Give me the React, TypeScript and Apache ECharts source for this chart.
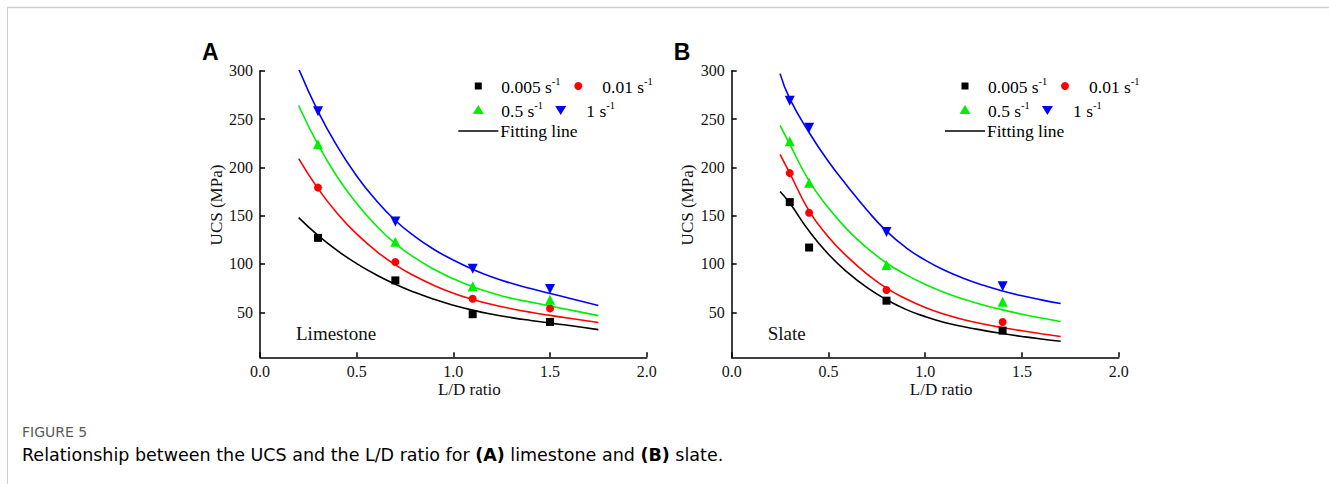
import React, { useEffect, useRef } from "react";
import * as echarts from "echarts";

// ---------- data ----------
const rateLabels = ["0.005", "0.01", "0.5", "1"];
const rateColors = ["#000000", "#ff0000", "#00ee00", "#0000ff"];
const rateSymbols = ["rect", "circle", "triangle", "triangle"];
const rateRotate = [0, 0, 0, 180];

const yTicks = [50, 100, 150, 200, 250, 300];

// Panel A: limestone
const limestoneLD = [0.3, 0.7, 1.1, 1.5];
const limestone0005 = [127, 83, 48, 40];
const limestone001 = [179, 102, 64, 54];
const limestone05 = [224, 123, 77, 63];
const limestone1 = [258, 144, 95, 74];

const limestoneFitLD = [0.2, 0.3, 0.4, 0.5, 0.6, 0.7, 0.8, 0.9, 1.0, 1.1, 1.2, 1.3, 1.4, 1.5, 1.6, 1.75];
const limestoneFit0005 = [148, 129.6, 113.8, 100.4, 88.9, 79.0, 70.6, 63.4, 57.3, 52.2, 48.0, 44.5, 41.5, 38.8, 36.3, 32.0];
const limestoneFit001 = [209, 178, 152.3, 131.1, 113.5, 99.0, 87.5, 77.8, 69.8, 63.3, 58.0, 53.7, 50.0, 46.8, 43.8, 39.5];
const limestoneFit05 = [264, 223.4, 190.0, 162.6, 139.8, 121.1, 106.5, 94.5, 84.6, 76.5, 70.0, 64.5, 60.5, 56.5, 52.5, 46.5];
const limestoneFit1 = [302, 258, 221.6, 191.1, 165.9, 145.0, 128.5, 115.0, 104.0, 94.5, 86.5, 80.0, 74.5, 69.5, 64.5, 57.0];

// Panel B: slate
const slateLD = [0.3, 0.4, 0.8, 1.4];
const slate0005 = [164, 117, 62, 31];
const slate001 = [194, 153, 73, 40];
const slate05 = [227, 184, 99, 61];
const slate1 = [269, 241, 133, 77];

const slateFitLD = [0.25, 0.3, 0.4, 0.5, 0.6, 0.7, 0.8, 0.9, 1.0, 1.1, 1.2, 1.3, 1.4, 1.5, 1.6, 1.7];
const slateFit0005 = [175, 163, 134, 110, 91, 75.5, 63, 53, 45.5, 39.5, 35, 31.3, 28, 25, 22.3, 20];
const slateFit001 = [213.5, 194, 155, 128, 107, 89.5, 75, 64, 55, 48, 42.3, 37.8, 34, 30.8, 27.8, 25];
const slateFit05 = [243.5, 224, 186, 158, 135, 116.5, 101, 89, 79, 70.5, 63.5, 57.5, 52.5, 48, 44, 40.5];
const slateFit1 = [297, 271, 236, 206, 180, 155.5, 134, 117, 104, 93.5, 85, 78, 72, 67, 62.8, 59];

const panels = [
  {
    letter: "A",
    rock: "Limestone",
    ld: limestoneLD,
    points: [limestone0005, limestone001, limestone05, limestone1],
    fitLD: limestoneFitLD,
    fits: [limestoneFit0005, limestoneFit001, limestoneFit05, limestoneFit1],
  },
  {
    letter: "B",
    rock: "Slate",
    ld: slateLD,
    points: [slate0005, slate001, slate05, slate1],
    fitLD: slateFitLD,
    fits: [slateFit0005, slateFit001, slateFit05, slateFit1],
  },
];

// ---------- layout ----------
const grids = [
  { left: 260, top: 70.7, width: 386.7, height: 286.6 },
  { left: 731.7, top: 70.7, width: 387, height: 286.6 },
];
const legendOrigins = [
  { x: 478.3, y: 86 },
  { x: 965, y: 86 },
];
const SERIF = "'Liberation Serif', 'Times New Roman', serif";
const CAPTION_FONT = "'DejaVu Sans', 'Open Sans', sans-serif";

function legendGraphics(ox: number, oy: number) {
  const fs = 17.5;
  const rich = {
    n: { fontSize: fs, fontFamily: SERIF, color: "#000", lineHeight: 20, verticalAlign: "bottom" },
    s: { fontSize: 10.5, fontFamily: SERIF, color: "#000", lineHeight: 20, verticalAlign: "top" },
  };
  const txt = (x: number, y: number, label: string) => ({
    type: "text",
    x,
    y,
    style: {
      text: `{n|${label} s}{s|-1}`,
      rich,
      textVerticalAlign: "middle",
      verticalAlign: "middle",
    },
  });
  const r2 = oy + 24;
  const r3 = oy + 45;
  return [
    { type: "rect", shape: { x: ox - 3.5, y: oy - 3.5, width: 7, height: 7 }, style: { fill: rateColors[0] } },
    txt(ox + 23, oy, rateLabels[0]),
    { type: "circle", shape: { cx: ox + 100, cy: oy, r: 4 }, style: { fill: rateColors[1] } },
    txt(ox + 124, oy, rateLabels[1]),
    { type: "polygon", shape: { points: [[ox, r2 - 5], [ox + 5.5, r2 + 4], [ox - 5.5, r2 + 4]] }, style: { fill: rateColors[2] } },
    txt(ox + 23, r2, rateLabels[2]),
    { type: "polygon", shape: { points: [[ox + 82.4, r2 + 5], [ox + 87.9, r2 - 4], [ox + 76.9, r2 - 4]] }, style: { fill: rateColors[3] } },
    txt(ox + 108, r2, rateLabels[3]),
    { type: "line", shape: { x1: ox - 20, y1: r3, x2: ox + 20, y2: r3 }, style: { stroke: "#000", lineWidth: 1.5 } },
    {
      type: "text",
      x: ox + 22,
      y: r3,
      style: { text: "Fitting line", fontSize: fs, fontFamily: SERIF, fill: "#000", textVerticalAlign: "middle", verticalAlign: "middle" },
    },
  ];
}

export default function App() {
  const ref = useRef<HTMLDivElement>(null);

  useEffect(() => {
    if (!ref.current) return;
    const chart = echarts.init(ref.current, undefined, { renderer: "svg" });

    const axisLineStyle = { color: "#000", width: 1.5 };
    const tickFont = { fontFamily: SERIF, fontSize: 16, color: "#111" };

    const xAxis = grids.map((_, i) => ({
      gridIndex: i,
      type: "value",
      min: 0,
      max: 2,
      interval: 0.5,
      axisLine: { show: true, onZero: false, lineStyle: axisLineStyle },
      axisTick: { show: true, inside: true, length: 5, lineStyle: axisLineStyle },
      axisLabel: { ...tickFont, margin: 6, formatter: (v: number) => v.toFixed(1) },
      splitLine: { show: false },
    }));
    const yAxis = grids.map((_, i) => ({
      gridIndex: i,
      type: "value",
      min: 3.4,
      max: 300,
      axisLine: { show: true, onZero: false, lineStyle: axisLineStyle },
      axisTick: { show: true, inside: true, length: 5, lineStyle: axisLineStyle, customValues: yTicks },
      axisLabel: { ...tickFont, margin: 7, customValues: yTicks },
      splitLine: { show: false },
    }));

    const series: any[] = [];
    panels.forEach((p, pi) => {
      p.fits.forEach((fit, si) => {
        series.push({
          type: "line",
          xAxisIndex: pi,
          yAxisIndex: pi,
          data: p.fitLD.map((x, k) => [x, fit[k]]),
          smooth: true,
          showSymbol: false,
          symbol: "none",
          lineStyle: { color: rateColors[si], width: 1.6 },
          z: 2,
          silent: true,
        });
      });
      p.points.forEach((vals, si) => {
        series.push({
          type: "scatter",
          xAxisIndex: pi,
          yAxisIndex: pi,
          data: p.ld.map((x, k) => [x, vals[k]]),
          symbol: rateSymbols[si],
          symbolRotate: rateRotate[si],
          symbolSize: si >= 2 ? 10 : 8,
          itemStyle: { color: rateColors[si], opacity: 1 },
          z: 3,
          silent: true,
        });
      });
    });

    const graphic: any[] = [
      // page frame
      { type: "line", shape: { x1: 7, y1: 7.5, x2: 1329, y2: 7.5 }, style: { stroke: "#cfcfcf", lineWidth: 1.5 } },
      { type: "line", shape: { x1: 7.5, y1: 7, x2: 7.5, y2: 484 }, style: { stroke: "#cfcfcf", lineWidth: 1 } },
      // caption
      {
        type: "text",
        x: 22,
        y: 432,
        style: { text: "FIGURE 5", fontFamily: CAPTION_FONT, fontSize: 14, fill: "#5a5a5a", textVerticalAlign: "middle", verticalAlign: "middle" },
      },
      {
        type: "text",
        x: 22,
        y: 455,
        style: {
          text: "{r|Relationship between the UCS and the L/D ratio for }{b|(A)}{r| limestone and }{b|(B)}{r| slate.}",
          rich: {
            r: { fontFamily: CAPTION_FONT, fontSize: 17.5, color: "#666" },
            b: { fontFamily: CAPTION_FONT, fontSize: 17.5, color: "#444", fontWeight: "bold" },
          },
          textVerticalAlign: "middle",
          verticalAlign: "middle",
        },
      },
    ];

    panels.forEach((p, pi) => {
      const g = grids[pi];
      graphic.push({
        type: "text",
        x: g.left - 58,
        y: 52,
        style: { text: p.letter, fontFamily: "'Liberation Sans', Arial, sans-serif", fontWeight: "bold", fontSize: 23, fill: "#000", textAlign: "left", textVerticalAlign: "middle", verticalAlign: "middle" },
      });
      graphic.push({
        type: "text",
        x: g.left - 44,
        y: 205,
        rotation: Math.PI / 2,
        style: { text: "UCS (MPa)", fontFamily: SERIF, fontSize: 17, fill: "#111", textAlign: "center", align: "center", textVerticalAlign: "middle", verticalAlign: "middle" },
      });
      graphic.push({
        type: "text",
        x: g.left + g.width / 2 + 16,
        y: 389,
        style: { text: "L/D ratio", fontFamily: SERIF, fontSize: 17, fill: "#111", textAlign: "center", align: "center", textVerticalAlign: "middle", verticalAlign: "middle" },
      });
      graphic.push({
        type: "text",
        x: g.left + 36,
        y: 333,
        style: { text: p.rock, fontFamily: SERIF, fontSize: 19, fill: "#111", textVerticalAlign: "middle", verticalAlign: "middle" },
      });
      graphic.push(...legendGraphics(legendOrigins[pi].x, legendOrigins[pi].y));
    });

    chart.setOption({
      animation: false,
      backgroundColor: "#ffffff",
      grid: grids.map((g) => ({ ...g, containLabel: false })),
      xAxis,
      yAxis,
      series,
      graphic,
    });

    return () => chart.dispose();
  }, []);

  return (
    <div
      ref={ref}
      style={{ position: "absolute", left: 0, top: 0, width: 1329, height: 484, background: "#fff" }}
    />
  );
}
